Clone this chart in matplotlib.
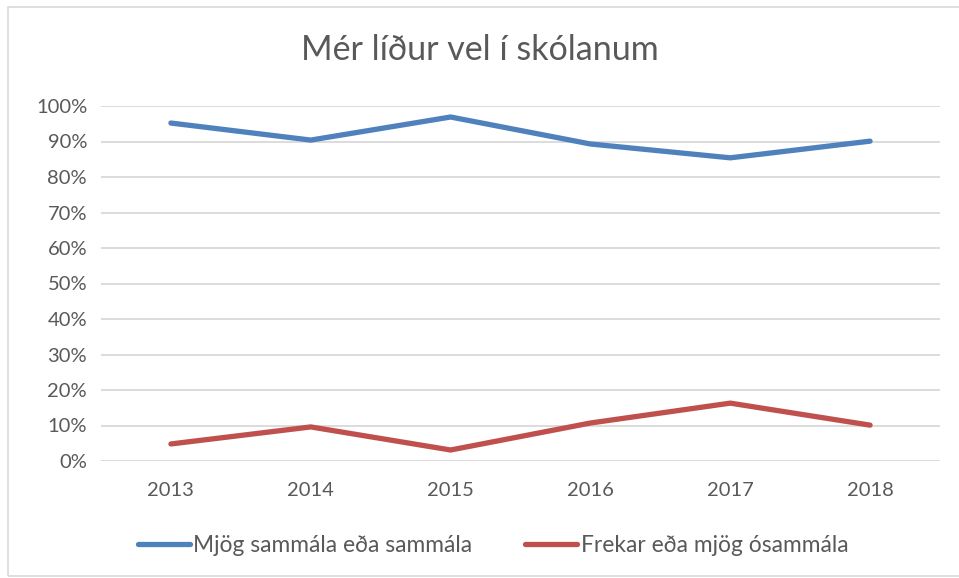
import matplotlib.pyplot as plt
from matplotlib.patches import Rectangle

years = ["2013", "2014", "2015", "2016", "2017", "2018"]
agree = [0.952, 0.904, 0.969, 0.893, 0.854, 0.901]
disagree = [0.048, 0.096, 0.031, 0.107, 0.163, 0.101]
labels = ["Mjög sammála eða sammála", "Frekar eða mjög ósammála"]
title = "Mér líður vel í skólanum"

plt.rcParams['font.family'] = ['Lato', 'DejaVu Sans']
text_color = "#595959"

fig = plt.figure(figsize=(9.59, 5.78), dpi=100)
ax = fig.add_axes([101 / 959, 1 - 461 / 578, 839 / 959, 355 / 578])

x = range(len(years))
ax.plot(x, agree, color="#4F81BD", lw=3.8, solid_capstyle="round", label=labels[0])
ax.plot(x, disagree, color="#C0504D", lw=3.8, solid_capstyle="round", label=labels[1])

ax.set_xlim(-0.5, len(years) - 0.5)
ax.set_ylim(0, 1)
ax.set_yticks([i / 10 for i in range(11)])
ax.set_yticklabels([f"{i * 10}%" for i in range(11)])
ax.set_xticks(list(x))
ax.set_xticklabels(years)
ax.tick_params(length=0, labelsize=14.5, colors=text_color, pad=10)
ax.tick_params(axis="x", pad=15)
ax.grid(axis="y", color="#D9D9D9", lw=1.3)
ax.set_axisbelow(True)
for s in ax.spines.values():
    s.set_visible(False)

fig.text(0.5, 1 - 50 / 578, title, ha="center", va="center", fontsize=24.5, color=text_color)

fig.legend(loc="center", bbox_to_anchor=(493 / 959, 1 - 545 / 578), ncol=2, frameon=False,
           fontsize=16.4, labelcolor=text_color, handlelength=2.3, handletextpad=0.15,
           columnspacing=2.3)

# chart frame
fig.patches.append(Rectangle((8 / 959, 2 / 578), 1.0, 569 / 578, transform=fig.transFigure,
                             fill=False, edgecolor="#D9D9D9", lw=1.2))

fig.savefig("out.png", dpi=100)
